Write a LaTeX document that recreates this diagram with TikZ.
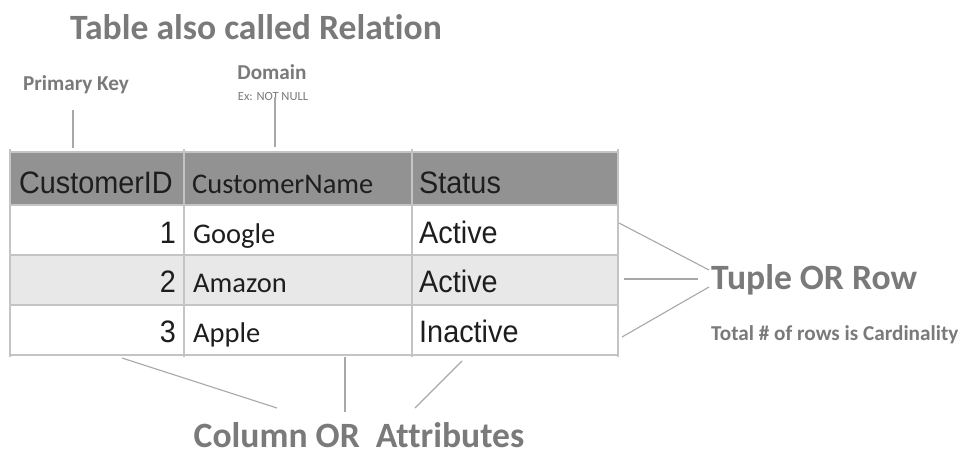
\documentclass[tikz,border=0pt]{standalone}
\usepackage{fontspec}
\setmainfont{Carlito}[Ligatures=NoCommon]
\newfontfamily\arialf{Liberation Sans}[FakeStretch=0.93]
\definecolor{lbl}{HTML}{7A7A7A}
\definecolor{conn}{HTML}{A8A8A8}
\definecolor{grid}{HTML}{C4C4C4}
\definecolor{hdr}{HTML}{929292}
\definecolor{alt}{HTML}{E8E8E8}
\definecolor{cell}{HTML}{1E1E1E}
\tikzset{
  bigl/.style={text=lbl,inner sep=0pt,font=\fontsize{35.6}{40}\selectfont\bfseries},
  midl/.style={text=lbl,inner sep=0pt,font=\fontsize{21.2}{24}\selectfont\bfseries},
  smalll/.style={text=lbl,inner sep=0pt,font=\fontsize{12.5}{14}\selectfont},
  arcell/.style={text=cell,inner sep=0pt,font=\arialf\fontsize{31}{34}\selectfont},
  cacell/.style={text=cell,inner sep=0pt,font=\fontsize{28.5}{32}\selectfont},
  connector/.style={draw=conn,line width=1.1pt},
  gridline/.style={draw=grid,line width=1.6pt}
}
\begin{document}
\begin{tikzpicture}[x=1pt,y=-1pt]
\useasboundingbox (0,0) rectangle (965,455);
\fill[white] (0,0) rectangle (965,455);

% table
\fill[hdr] (10,152) rectangle (618,205);
\fill[alt] (10,255) rectangle (618,305);
\foreach \yy in {152,205,255,305,355} \draw[gridline] (10,\yy) -- (618,\yy);
\foreach \xx in {10,184,412,618} \draw[gridline] (\xx,149) -- (\xx,357);

% header
\node[arcell,anchor=base east] (hID) at (173,193) {CustomerID};
\node[cacell,anchor=base west] (hName) at (192,193) {CustomerName};
\node[arcell,anchor=base west] (hStat) at (419,193) {Status};
% rows
\node[arcell,anchor=base east] (r1a) at (176,243) {1};
\node[cacell,anchor=base west] (r1b) at (193,243) {Google};
\node[arcell,anchor=base west] (r1c) at (419,243) {Active};
\node[arcell,anchor=base east] (r2a) at (176,292) {2};
\node[cacell,anchor=base west] (r2b) at (193,292) {Amazon};
\node[arcell,anchor=base west] (r2c) at (419,292) {Active};
\node[arcell,anchor=base east] (r3a) at (176,342) {3};
\node[cacell,anchor=base west] (r3b) at (193,342) {Apple};
\node[arcell,anchor=base west] (r3c) at (419,342) {Inactive};

% labels
\node[bigl] (title) at (256,27) {Table also called Relation};
\node[midl] (pk) at (76,85) {Primary Key};
\node[midl] (dom) at (272,72) {Domain};
\node[smalll] (ex) at (273,96) {Ex: NOT NULL};
\node[bigl,anchor=west] (tuple) at (711,280) {Tuple OR Row};
\node[midl,anchor=west] (card) at (711,335) {Total \# of rows is Cardinality};
\node[bigl] (col) at (359,435) {Column OR\ \ Attributes};

% connector ends
\coordinate (pkA) at (73,110); \coordinate (pkB) at (73,148);
\coordinate (dmA) at (275,97); \coordinate (dmB) at (275,147);
\coordinate (t1) at (619,223); \coordinate (t1e) at (709,270);
\coordinate (t2) at (624,279); \coordinate (t2e) at (698,279);
\coordinate (t3) at (622,337); \coordinate (t3e) at (709,287);
\coordinate (c1) at (122,358); \coordinate (c1e) at (277,408);
\coordinate (c2) at (345,357); \coordinate (c2e) at (345,412);
\coordinate (c3) at (462,361); \coordinate (c3e) at (415,408);

\draw[connector] (pkA) -- (pkB);
\draw[connector] (dmA) -- (dmB);
\draw[connector] (t1) -- (t1e);
\draw[connector] (t2) -- (t2e);
\draw[connector] (t3) -- (t3e);
\draw[connector] (c1) -- (c1e);
\draw[connector] (c2) -- (c2e);
\draw[connector] (c3) -- (c3e);
\end{tikzpicture}
\end{document}
